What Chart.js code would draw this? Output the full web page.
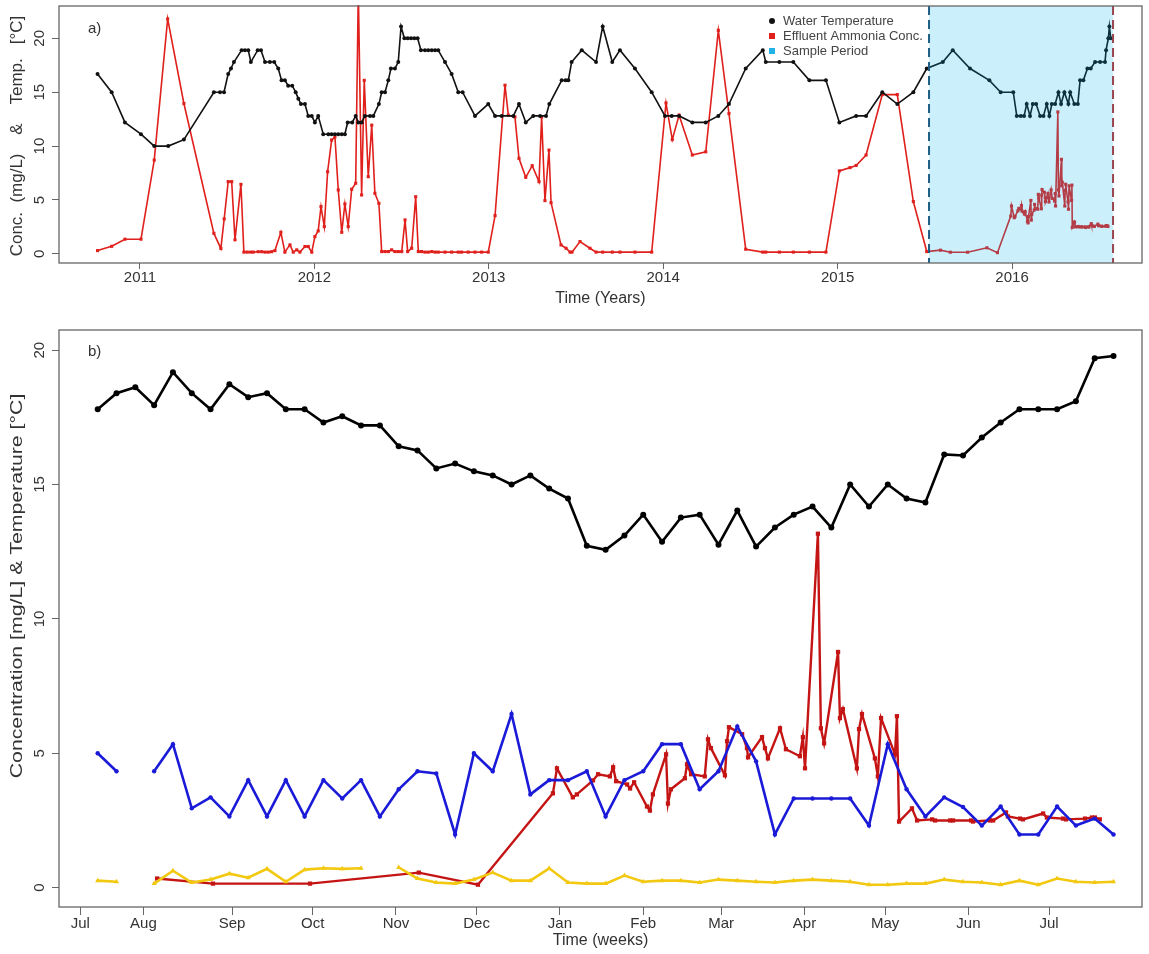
<!DOCTYPE html>
<html>
<head>
<meta charset="utf-8">
<script src="https://cdn.jsdelivr.net/npm/chart.js@4.4.1/dist/chart.umd.min.js"></script>
<style>
  body { margin: 0; background: #fff; }
  canvas { display: block; }
</style>
</head>
<body>
<canvas id="years" width="1149" height="310"></canvas>
<canvas id="weeks" width="1149" height="644"></canvas>
<script>
// ---- panel a: long record, x in decimal years ----
const yearTicks = [2011, 2012, 2013, 2014, 2015, 2016];
const samplePeriod = [2015.524, 2016.579];

const tempYears = [2010.757, 2010.838, 2010.914, 2011.006, 2011.082, 2011.162, 2011.252, 2011.424, 2011.459, 2011.482,
  2011.506, 2011.522, 2011.539, 2011.583, 2011.602, 2011.621, 2011.636, 2011.675, 2011.694, 2011.717,
  2011.745, 2011.770, 2011.793, 2011.812, 2011.831, 2011.850, 2011.873, 2011.893, 2011.908, 2011.923,
  2011.946, 2011.965, 2011.985, 2012.003, 2012.022, 2012.051, 2012.080, 2012.099, 2012.118, 2012.137,
  2012.157, 2012.175, 2012.191, 2012.217, 2012.237, 2012.252, 2012.271, 2012.290, 2012.319, 2012.338,
  2012.370, 2012.386, 2012.405, 2012.424, 2012.439, 2012.462, 2012.481, 2012.497, 2012.516, 2012.535,
  2012.554, 2012.573, 2012.592, 2012.611, 2012.634, 2012.653, 2012.673, 2012.692, 2012.710, 2012.749,
  2012.787, 2012.825, 2012.850, 2012.921, 2012.997, 2013.036, 2013.074, 2013.141, 2013.173, 2013.212,
  2013.255, 2013.294, 2013.328, 2013.347, 2013.418, 2013.441, 2013.456, 2013.475, 2013.533, 2013.615,
  2013.653, 2013.708, 2013.752, 2013.838, 2013.934, 2014.010, 2014.049, 2014.091, 2014.167, 2014.244,
  2014.316, 2014.377, 2014.473, 2014.571, 2014.588, 2014.666, 2014.746, 2014.838, 2014.933, 2015.010,
  2015.106, 2015.163, 2015.256, 2015.342, 2015.434, 2015.511, 2015.603, 2015.660, 2015.759, 2015.870,
  2015.935, 2016.007, 2016.027, 2016.050, 2016.069, 2016.084, 2016.103, 2016.119, 2016.138, 2016.161,
  2016.180, 2016.199, 2016.214, 2016.228, 2016.247, 2016.266, 2016.281, 2016.300, 2016.323, 2016.333,
  2016.357, 2016.377, 2016.390, 2016.409, 2016.432, 2016.451, 2016.476, 2016.505, 2016.533, 2016.539,
  2016.552, 2016.558, 2016.566];
const tempLong = [16.7, 15.0, 12.2, 11.1, 10.0, 10.0, 10.6, 15.0, 15.0, 15.0,
  16.7, 17.2, 17.8, 18.9, 18.9, 18.9, 17.8, 18.9, 18.9, 17.8,
  17.8, 17.8, 17.2, 16.1, 16.1, 15.6, 15.6, 15.0, 14.4, 13.9,
  13.9, 12.8, 12.8, 12.2, 12.8, 11.1, 11.1, 11.1, 11.1, 11.1,
  11.1, 11.1, 12.2, 12.2, 12.8, 12.2, 12.2, 12.8, 12.8, 12.8,
  13.9, 15.0, 15.0, 16.1, 17.2, 17.2, 17.8, 21.1, 20.0, 20.0,
  20.0, 20.0, 20.0, 18.9, 18.9, 18.9, 18.9, 18.9, 18.9, 17.8,
  16.7, 15.0, 15.0, 12.8, 13.9, 12.8, 12.8, 12.8, 13.9, 12.2,
  12.8, 12.8, 12.8, 13.9, 16.1, 16.1, 16.1, 17.8, 18.9, 17.8,
  21.1, 17.8, 18.9, 17.2, 15.0, 12.8, 12.8, 12.8, 12.2, 12.2,
  12.8, 13.9, 17.2, 18.9, 17.8, 17.8, 17.8, 16.1, 16.1, 12.2,
  12.8, 12.8, 15.0, 13.9, 15.0, 17.2, 17.8, 18.9, 17.2, 16.1,
  15.0, 15.0, 12.8, 12.8, 12.8, 13.9, 12.8, 13.9, 13.9, 12.8,
  12.8, 13.9, 12.8, 13.9, 13.9, 15.0, 13.9, 15.0, 13.9, 15.0,
  13.9, 13.9, 16.1, 16.1, 17.2, 17.2, 17.8, 17.8, 17.8, 18.9,
  20.0, 21.1, 20.0];

// effluent ammonia before the sample period
const concYears = [2010.757, 2010.838, 2010.914, 2011.006, 2011.082, 2011.159, 2011.252, 2011.424, 2011.464, 2011.483,
  2011.506, 2011.526, 2011.545, 2011.579, 2011.596, 2011.615, 2011.635, 2011.650, 2011.678, 2011.698,
  2011.717, 2011.736, 2011.755, 2011.774, 2011.808, 2011.831, 2011.860, 2011.879, 2011.899, 2011.917,
  2011.946, 2011.965, 2011.985, 2012.003, 2012.022, 2012.038, 2012.057, 2012.076, 2012.099, 2012.118,
  2012.137, 2012.157, 2012.175, 2012.194, 2012.214, 2012.237, 2012.252, 2012.271, 2012.286, 2012.309,
  2012.329, 2012.347, 2012.370, 2012.386, 2012.405, 2012.424, 2012.443, 2012.462, 2012.481, 2012.501,
  2012.520, 2012.535, 2012.558, 2012.581, 2012.596, 2012.615, 2012.634, 2012.653, 2012.673, 2012.692,
  2012.710, 2012.749, 2012.787, 2012.825, 2012.844, 2012.882, 2012.921, 2012.959, 2012.997, 2013.036,
  2013.093, 2013.112, 2013.150, 2013.173, 2013.212, 2013.249, 2013.288, 2013.303, 2013.322, 2013.345,
  2013.357, 2013.414, 2013.443, 2013.466, 2013.477, 2013.523, 2013.580, 2013.615, 2013.653, 2013.708,
  2013.752, 2013.838, 2013.934, 2014.016, 2014.052, 2014.091, 2014.167, 2014.244, 2014.316, 2014.377,
  2014.473, 2014.571, 2014.588, 2014.666, 2014.746, 2014.838, 2014.933, 2015.010, 2015.071, 2015.106,
  2015.163, 2015.256, 2015.342, 2015.434, 2015.511];
const concLong = [0.3, 0.7, 1.36, 1.36, 8.7, 21.8, 13.95, 1.9, 0.5, 3.24,
  6.7, 6.7, 1.3, 6.45, 0.16, 0.16, 0.16, 0.16, 0.2, 0.2,
  0.16, 0.16, 0.2, 0.3, 2.0, 0.16, 0.83, 0.16, 0.37, 0.16,
  0.68, 0.68, 0.16, 1.6, 2.13, 4.38, 2.53, 7.62, 10.56, 10.86,
  5.93, 2.0, 4.63, 2.53, 6.0, 6.55, 24.5, 5.46, 16.1, 7.16,
  11.94, 5.62, 4.69, 0.21, 0.21, 0.21, 0.37, 0.21, 0.21, 0.21,
  3.15, 0.21, 0.52, 5.3, 0.21, 0.21, 0.16, 0.16, 0.21, 0.16,
  0.16, 0.16, 0.16, 0.16, 0.16, 0.16, 0.16, 0.16, 0.16, 3.55,
  15.65, 12.87, 12.71, 8.86, 7.1, 8.18, 6.7, 12.71, 4.94, 9.63,
  4.75, 0.83, 0.52, 0.16, 0.16, 1.14, 0.52, 0.16, 0.16, 0.16,
  0.16, 0.16, 0.16, 14.0, 10.6, 12.87, 9.17, 9.47, 20.74, 13.02,
  0.43, 0.16, 0.16, 0.16, 0.16, 0.16, 0.16, 7.7, 8.0, 8.2,
  9.17, 14.78, 14.78, 4.85, 0.21];

const legendLabels = ['Water Temperature', 'Effluent Ammonia Conc.', 'Sample Period'];

// ---- panel b: sample period, x in days since 1 Jul 2015 ----
const monthTicks = [5.5, 29, 62, 92, 123, 153, 184, 215, 244, 275, 305, 336, 366];
const monthLabels = ['Jul', 'Aug', 'Sep', 'Oct', 'Nov', 'Dec', 'Jan', 'Feb', 'Mar', 'Apr', 'May', 'Jun', 'Jul'];

const weekDays = [12, 19, 26, 33, 40, 47, 54, 61, 68, 75, 82, 89, 96, 103, 110, 117, 124, 131, 138, 145,
  152, 159, 166, 173, 180, 187, 194, 201, 208, 215, 222, 229, 236, 243, 250, 257, 264, 271, 278, 285,
  292, 299, 306, 313, 320, 327, 334, 341, 348, 355, 362, 369, 376, 383, 390];
const weeklyTemp = [17.8, 18.4, 18.62, 17.95, 19.18, 18.4, 17.8, 18.73, 18.25, 18.4,
  17.8, 17.8, 17.31, 17.54, 17.2, 17.2, 16.42, 16.27, 15.6, 15.78,
  15.49, 15.34, 15.0, 15.34, 14.85, 14.48, 12.72, 12.57, 13.1, 13.88,
  12.87, 13.77, 13.88, 12.76, 14.03, 12.69, 13.4, 13.88, 14.18, 13.4,
  15.0, 14.18, 15.0, 14.48, 14.33, 16.12, 16.08, 16.75, 17.31, 17.8,
  17.8, 17.8, 18.1, 19.7, 19.78];
const blueConc = [5.0, 4.33, null, 4.33, 5.34, 2.95, 3.36, 2.65, 4.0, 2.65,
  4.0, 2.65, 4.0, 3.32, 4.0, 2.65, 3.66, 4.33, 4.25, 1.98,
  5.0, 4.33, 6.46, 3.47, 4.0, 4.0, 4.33, 2.65, 4.0, 4.33,
  5.34, 5.34, 3.66, 4.33, 6.0, 4.7, 1.98, 3.32, 3.32, 3.32,
  3.32, 2.31, 5.34, 3.66, 2.65, 3.36, 3.0, 2.31, 3.02, 1.98,
  1.98, 3.02, 2.31, 2.57, 1.98];
const yellowConc = [0.26, 0.22, null, 0.15, 0.63, 0.19, 0.3, 0.52, 0.37, 0.7,
  0.22, 0.67, 0.72, 0.7, 0.72, null, 0.75, 0.34, 0.19, 0.15,
  0.3, 0.56, 0.26, 0.26, 0.72, 0.19, 0.15, 0.15, 0.45, 0.22,
  0.26, 0.26, 0.19, 0.3, 0.26, 0.22, 0.19, 0.26, 0.3, 0.26,
  0.22, 0.11, 0.11, 0.15, 0.15, 0.3, 0.22, 0.19, 0.11, 0.26,
  0.11, 0.34, 0.22, 0.19, 0.22];

const effluentDays = [34.1, 54.9, 91.0, 131.5, 153.5, 181.4, 182.9, 188.8, 190.3, 196.3,
  198.2, 202.6, 203.8, 204.9, 209.0, 210.1, 211.6, 216.4, 217.5, 218.6,
  223.5, 224.2, 225.3, 230.5, 231.3, 232.8, 237.9, 239.1, 240.2, 245.4,
  246.2, 246.9, 251.8, 253.6, 254.0, 259.2, 260.3, 261.4, 265.9, 268.1,
  273.3, 274.4, 275.2, 280.0, 281.1, 282.3, 287.5, 288.2, 289.3, 294.5,
  295.3, 296.4, 301.2, 302.3, 303.5, 308.7, 309.4, 310.2, 315.0, 316.9,
  322.5, 323.6, 329.2, 330.3, 337.0, 337.7, 344.0, 345.2, 350.0, 350.7,
  355.2, 356.3, 363.8, 365.2, 371.2, 372.3, 379.4, 382.0, 383.1, 384.9];
const effluentConc = [0.34, 0.15, 0.15, 0.56, 0.11, 3.51, 4.44, 3.36, 3.47, 3.99,
  4.22, 4.14, 4.48, 3.96, 3.84, 3.69, 3.92, 3.02, 2.87, 3.47,
  4.96, 3.13, 3.66, 4.07, 4.59, 4.22, 4.14, 5.52, 5.19, 4.18,
  5.45, 5.97, 5.71, 5.19, 4.85, 5.6, 5.19, 4.81, 5.93, 5.15,
  4.89, 5.6, 4.44, 13.17, 5.93, 5.37, 8.77, 6.31, 6.64, 4.44,
  5.9, 6.46, 4.81, 4.14, 6.31, 4.96, 6.38, 2.46, 2.95, 2.5,
  2.54, 2.5, 2.5, 2.5, 2.5, 2.46, 2.5, 2.5, 2.8, 2.65,
  2.57, 2.54, 2.76, 2.61, 2.57, 2.54, 2.57, 2.61, 2.61, 2.54];

const FONT = '"Liberation Sans", Arial, sans-serif';
const dayToYear = d => 2015.496 + d / 365.25;
const pairs = (xs, ys) => xs.map((x, i) => ({ x: x, y: ys[i] }));

// R-style box, rotated y labels, axis titles and panel tag
const framePlugin = {
  id: 'frame',
  afterDraw(chart, args, o) {
    const ctx = chart.ctx, a = chart.chartArea, ys = chart.scales.y;
    ctx.save();
    ctx.strokeStyle = '#666';
    ctx.lineWidth = 1.3;
    ctx.strokeRect(a.left, a.top, a.right - a.left, a.bottom - a.top);

    ctx.fillStyle = '#333';
    ctx.textAlign = 'center';
    ctx.textBaseline = 'middle';
    ctx.font = '15px ' + FONT;
    ys.ticks.forEach(t => {
      ctx.save();
      ctx.translate(40, ys.getPixelForValue(t.value));
      ctx.rotate(-Math.PI / 2);
      ctx.fillText(String(t.value), 0, 0);
      ctx.restore();
    });

    // y title, stretched along its length
    ctx.font = '16px ' + FONT;
    ctx.save();
    ctx.translate(18, o.yTitleMid);
    ctx.rotate(-Math.PI / 2);
    ctx.scale(o.yTitleStretch, 1);
    ctx.fillText(o.yTitle, 0, 0);
    ctx.restore();
    ctx.fillText(o.xTitle, (a.left + a.right) / 2, o.xTitleY);

    ctx.textAlign = 'left';
    ctx.font = '15px ' + FONT;
    ctx.fillText(o.tag, 88, o.tagY);
    ctx.restore();
  }
};

// shaded sample window with dashed edges, drawn over the lines
const periodPlugin = {
  id: 'period',
  afterDatasetsDraw(chart) {
    const ctx = chart.ctx, a = chart.chartArea, xs = chart.scales.x;
    const x0 = xs.getPixelForValue(samplePeriod[0]);
    const x1 = xs.getPixelForValue(samplePeriod[1]);
    ctx.save();
    ctx.fillStyle = 'rgba(0, 176, 240, 0.2)';
    ctx.fillRect(x0, a.top, x1 - x0, a.bottom - a.top);
    ctx.lineWidth = 2;
    ctx.setLineDash([9, 5]);
    ctx.strokeStyle = '#1d5f86';
    ctx.beginPath(); ctx.moveTo(x0, a.top); ctx.lineTo(x0, a.bottom); ctx.stroke();
    ctx.strokeStyle = '#9a4450';
    ctx.beginPath(); ctx.moveTo(x1, a.top); ctx.lineTo(x1, a.bottom); ctx.stroke();
    ctx.restore();

    // legend
    ctx.save();
    ctx.font = '13px ' + FONT;
    ctx.textBaseline = 'middle';
    const rows = [21, 36, 51];
    legendLabels.forEach((txt, i) => {
      const y = rows[i];
      if (i === 0) {
        ctx.fillStyle = '#111';
        ctx.beginPath(); ctx.arc(772, y, 3, 0, Math.PI * 2); ctx.fill();
      } else {
        ctx.fillStyle = i === 1 ? '#e0201c' : '#22b2e6';
        ctx.fillRect(769, y - 3, 6, 6);
      }
      ctx.fillStyle = '#444';
      ctx.fillText(txt, 783, y);
    });
    ctx.restore();
  }
};

function axisX(min, max, ticks, labels, tickLen) {
  return {
    type: 'linear', min: min, max: max,
    afterBuildTicks: s => { s.ticks = ticks.map(v => ({ value: v })); },
    afterFit: s => { s.height = 47; },
    grid: { drawOnChartArea: false, drawTicks: true, tickLength: tickLen, color: '#666', tickColor: '#666' },
    border: { display: false },
    ticks: {
      color: '#333', font: { size: 15, family: FONT }, padding: 0,
      maxRotation: 0, autoSkip: false,
      callback: (v, i) => labels[i]
    }
  };
}

function axisY(min, max) {
  return {
    type: 'linear', min: min, max: max,
    afterBuildTicks: s => { s.ticks = [0, 5, 10, 15, 20].map(v => ({ value: v })); },
    afterFit: s => { s.width = 59; },
    grid: { drawOnChartArea: false, drawTicks: true, tickLength: 7, color: '#666', tickColor: '#666' },
    border: { display: false },
    ticks: { display: false }
  };
}

const baseOpts = {
  responsive: false,
  animation: false,
  devicePixelRatio: 1,
  elements: { line: { tension: 0 } }
};

new Chart(document.getElementById('years'), {
  type: 'line',
  data: {
    datasets: [
      {
        label: legendLabels[0],
        data: pairs(tempYears, tempLong),
        borderColor: '#111', backgroundColor: '#111', borderWidth: 1.6,
        pointRadius: 2, pointBorderWidth: 0, pointStyle: 'circle'
      },
      {
        label: legendLabels[1],
        data: pairs(concYears.concat(effluentDays.map(dayToYear)), concLong.concat(effluentConc)),
        borderColor: '#e0201c', backgroundColor: '#e0201c', borderWidth: 1.6,
        pointRadius: 2.2, pointBorderWidth: 0, pointStyle: 'rect', clip: 1
      }
    ]
  },
  options: Object.assign({}, baseOpts, {
    layout: { padding: { left: 0, right: 7, top: 6, bottom: 0 } },
    scales: {
      x: axisX(2010.536, 2016.745, yearTicks, yearTicks.map(String), 6),
      y: axisY(-0.85, 23)
    },
    plugins: {
      legend: { display: false },
      tooltip: { enabled: false },
      frame: {
        yTitle: 'Conc.  (mg/L)    &    Temp.   [°C]', yTitleMid: 136, yTitleStretch: 1.06,
        xTitle: 'Time (Years)', xTitleY: 299, tag: 'a)', tagY: 29
      }
    }
  }),
  plugins: [periodPlugin, framePlugin]
});

new Chart(document.getElementById('weeks'), {
  type: 'line',
  data: {
    datasets: [
      {
        data: pairs(weekDays, weeklyTemp),
        borderColor: '#000', backgroundColor: '#000', borderWidth: 2.6,
        pointRadius: 3, pointBorderWidth: 0
      },
      {
        data: pairs(weekDays, yellowConc),
        borderColor: '#f2c811', backgroundColor: '#f2c811', borderWidth: 2.6,
        pointRadius: 3, pointBorderWidth: 0, pointStyle: 'triangle'
      },
      {
        data: pairs(weekDays, blueConc),
        borderColor: '#1a1ad8', backgroundColor: '#1a1ad8', borderWidth: 2.6,
        pointRadius: 2.2, pointBorderWidth: 0
      },
      {
        data: pairs(effluentDays, effluentConc),
        borderColor: '#c41414', backgroundColor: '#c41414', borderWidth: 2.4,
        pointRadius: 3, pointBorderWidth: 0, pointStyle: 'rect'
      }
    ]
  },
  options: Object.assign({}, baseOpts, {
    layout: { padding: { left: 0, right: 7, top: 20, bottom: 0 } },
    scales: {
      x: axisX(-2.4, 400.6, monthTicks, monthLabels, 8),
      y: axisY(-0.72, 20.75)
    },
    plugins: {
      legend: { display: false },
      tooltip: { enabled: false },
      frame: {
        yTitle: 'Concentration [mg/L] & Temperature [°C]', yTitleMid: 276, yTitleStretch: 1.33,
        xTitle: 'Time (weeks)', xTitleY: 631, tag: 'b)', tagY: 42
      }
    }
  }),
  plugins: [framePlugin]
});
</script>
</body>
</html>
